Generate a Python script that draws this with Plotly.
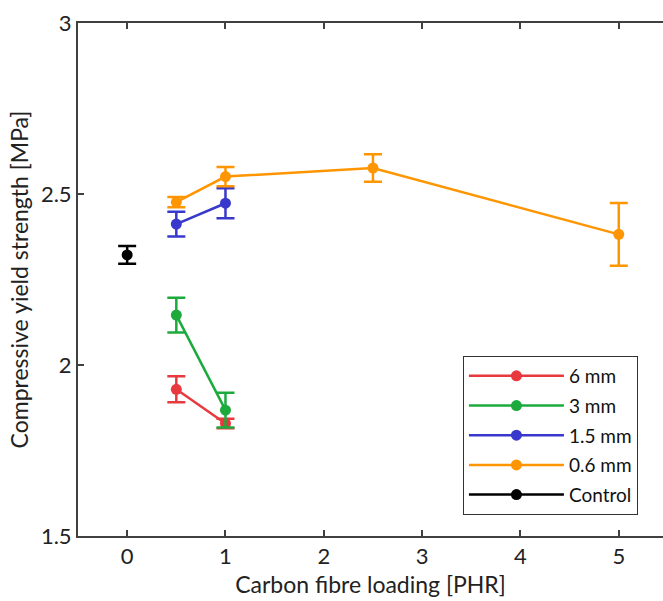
import plotly.graph_objects as go

# Data
x_6mm = [0.5, 1.0]
y_6mm = [1.929, 1.829]
e_6mm = [0.038, 0.014]

x_3mm = [0.5, 1.0]
y_3mm = [2.146, 1.868]
e_3mm = [0.051, 0.051]

x_15mm = [0.5, 1.0]
y_15mm = [2.412, 2.473]
e_15mm = [0.036, 0.044]

x_06mm = [0.5, 1.0, 2.5, 5.0]
y_06mm = [2.476, 2.551, 2.576, 2.382]
e_06mm = [0.015, 0.028, 0.040, 0.092]

x_ctrl = [0.0]
y_ctrl = [2.322]
e_ctrl = [0.026]

series = [
    ("6 mm", x_6mm, y_6mm, e_6mm, "#e8393e"),
    ("3 mm", x_3mm, y_3mm, e_3mm, "#1caa3c"),
    ("1.5 mm", x_15mm, y_15mm, e_15mm, "#3838cc"),
    ("0.6 mm", x_06mm, y_06mm, e_06mm, "#ff9500"),
    ("Control", x_ctrl, y_ctrl, e_ctrl, "#000000"),
]

x_ticks = [0, 1, 2, 3, 4, 5]
y_ticks = [1.5, 2, 2.5, 3]
y_ticklabels = ["1.5", "2", "2.5", "3"]

FONT = "Lato, Open Sans, sans-serif"

fig = go.Figure()
for i, (name, xs, ys, es, col) in enumerate(series):
    fig.add_trace(go.Scatter(
        x=xs, y=ys, name=name, mode="lines+markers", legendgroup=f"g{i}",
        line=dict(color=col, width=2.5),
        marker=dict(color=col, size=11),
        error_y=dict(type="data", array=es, visible=True, color=col,
                     thickness=2.5, width=9),
    ))

axis_col = "#404040"
fig.update_layout(
    width=663, height=601,
    margin=dict(l=78, r=0, t=23, b=65),
    paper_bgcolor="white", plot_bgcolor="white",
    font=dict(family=FONT, size=22, color="#222222"),
    showlegend=True,
    legend=dict(
        x=0.658, y=0.041, xanchor="left", yanchor="bottom",
        bgcolor="white", bordercolor="#333333", borderwidth=1,
        font=dict(family=FONT, size=19, color="#111111"),
        itemwidth=95, tracegroupgap=2,
    ),
    xaxis=dict(
        range=[-0.5, 5.45], tickvals=x_ticks, ticks="inside", ticklen=6,
        tickwidth=1.5, tickcolor=axis_col, showline=True, linecolor=axis_col,
        linewidth=2, mirror="ticks", showgrid=False, zeroline=False,
        automargin=False,
        tickfont=dict(size=22), title=dict(text="Carbon fibre loading [PHR]",
                                            font=dict(size=23), standoff=8),
    ),
    yaxis=dict(
        range=[1.5, 3.0], tickvals=y_ticks, ticktext=y_ticklabels,
        ticks="inside", ticklen=6, tickwidth=1.5, tickcolor=axis_col,
        showline=True, linecolor=axis_col, linewidth=2, mirror=False,
        showgrid=False, zeroline=False, automargin=False,
        tickfont=dict(size=22),
        title=dict(text="Compressive yield strength [MPa]",
                   font=dict(size=23), standoff=6),
    ),
)

fig.write_html("out.html", config={"displayModeBar": False},
               post_script="document.body.style.margin='0';document.body.style.overflow='hidden';")
